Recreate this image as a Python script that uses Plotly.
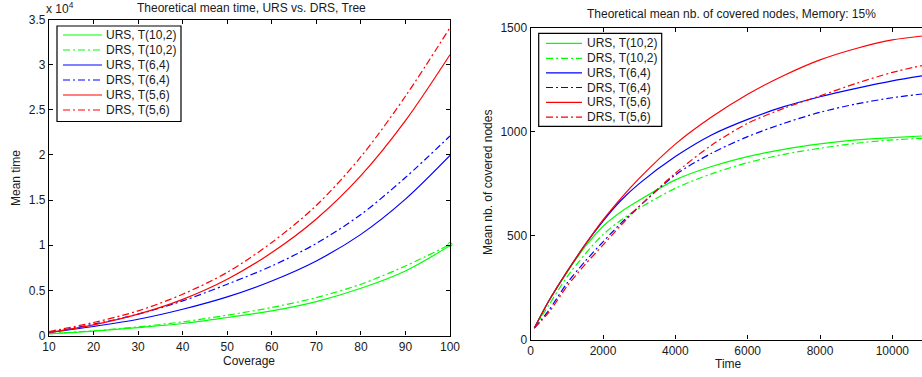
import plotly.graph_objects as go

# ---------------- data ----------------
coverage = [10, 20, 30, 40, 50, 60, 70, 80, 90, 100]
mt_urs_10_2 = [180, 480, 880, 1330, 1990, 2730, 3760, 5230, 7150, 9950]
mt_drs_10_2 = [220, 520, 960, 1510, 2250, 3100, 4200, 5680, 7700, 10080]
mt_urs_6_4 = [330, 1000, 1800, 2910, 4280, 6040, 8260, 11200, 15100, 19940]
mt_drs_6_4 = [330, 1250, 2360, 3830, 5680, 7700, 10200, 13400, 17500, 22100]
mt_urs_5_6 = [330, 1180, 2360, 4000, 6230, 9180, 12900, 17700, 23800, 31100]
mt_drs_5_6 = [440, 1440, 2730, 4570, 7000, 10300, 14400, 19800, 26500, 34100]

time = [100, 500, 1000, 1500, 2000, 2500, 3000, 4000, 5000, 6000, 7000, 8000, 9000, 10000, 10820]
cn_urs_10_2 = [55, 185, 322, 445, 545, 615, 670, 768, 832, 880, 915, 941, 960, 971, 979]
cn_drs_10_2 = [55, 165, 300, 410, 505, 575, 631, 728, 797, 851, 891, 920, 944, 960, 968]
cn_urs_6_4 = [55, 185, 325, 455, 570, 670, 750, 880, 984, 1059, 1120, 1168, 1208, 1244, 1268]
cn_drs_6_4 = [55, 140, 270, 375, 470, 560, 640, 792, 896, 976, 1040, 1093, 1133, 1163, 1181]
cn_urs_5_6 = [55, 185, 325, 455, 575, 680, 775, 940, 1070, 1180, 1270, 1345, 1400, 1441, 1460]
cn_drs_5_6 = [55, 130, 255, 360, 455, 550, 640, 800, 935, 1040, 1112, 1172, 1232, 1285, 1318]

names = ["URS, T(10,2)", "DRS, T(10,2)", "URS, T(6,4)", "DRS, T(6,4)", "URS, T(5,6)", "DRS, T(5,6)"]
colors = ["#00ff00", "#00ff00", "#0000ff", "#0000ff", "#ff0000", "#ff0000"]

left_yticks = [0, 5000, 10000, 15000, 20000, 25000, 30000, 35000]
left_yticktext = ["0", "0.5", "1", "1.5", "2", "2.5", "3", "3.5"]
left_xticks = [10, 20, 30, 40, 50, 60, 70, 80, 90, 100]
right_xticks = [0, 2000, 4000, 6000, 8000, 10000]
right_xticktext = ["0", "2000", "4000", "6000", "8000", "10000"]
right_yticks = [0, 500, 1000, 1500]

# ---------------- figure ----------------
W, H = 922, 377
FONT = "Liberation Sans, Arial, Helvetica, sans-serif"
DASHDOT = "7px,3px,2px,3px"
TXT = "#1a1a1a"


def px_x(p):
    return p / W


def px_y(p):
    return 1 - p / H


fig = go.Figure()

left_series = [mt_urs_10_2, mt_drs_10_2, mt_urs_6_4, mt_drs_6_4, mt_urs_5_6, mt_drs_5_6]
right_series = [cn_urs_10_2, cn_drs_10_2, cn_urs_6_4, cn_drs_6_4, cn_urs_5_6, cn_drs_5_6]

for i, (nm, col, ys) in enumerate(zip(names, colors, left_series)):
    fig.add_trace(go.Scatter(
        x=coverage, y=ys, name=nm, mode="lines", showlegend=False,
        line=dict(color=col, width=1.2, shape="spline", smoothing=0.9,
                  dash="solid" if i % 2 == 0 else DASHDOT),
        xaxis="x", yaxis="y"))

# small end marker on the green DRS curve (as in the reference)
fig.add_trace(go.Scatter(
    x=[coverage[-1]], y=[mt_drs_10_2[-1]], mode="markers", showlegend=False,
    marker=dict(symbol="circle-open", size=4, color=colors[1], line=dict(width=1)),
    xaxis="x", yaxis="y", cliponaxis=False))

for i, (nm, col, ys) in enumerate(zip(names, colors, right_series)):
    fig.add_trace(go.Scatter(
        x=time, y=ys, name=nm, mode="lines", showlegend=False,
        line=dict(color=col, width=1.2, shape="spline", smoothing=0.8,
                  dash="solid" if i % 2 == 0 else DASHDOT),
        xaxis="x2", yaxis="y2"))

axis_common = dict(
    showgrid=False, zeroline=False, showline=True, linecolor="black", linewidth=1.3,
    ticks="inside", ticklen=4, tickcolor="black", tickwidth=1, automargin=False,
    tickfont=dict(family=FONT, size=12, color=TXT),
)

fig.update_layout(
    width=W, height=H,
    margin=dict(l=0, r=0, t=0, b=0, autoexpand=False),
    paper_bgcolor="white", plot_bgcolor="white",
    font=dict(family=FONT, size=12, color=TXT),
    showlegend=False,
    xaxis=dict(domain=[px_x(49), px_x(450)], range=[10, 100], tickvals=left_xticks,
               mirror="ticks", anchor="y", **axis_common),
    yaxis=dict(domain=[px_y(335.5), px_y(19.5)], range=[0, 35000], tickvals=left_yticks,
               ticktext=left_yticktext, mirror="ticks", anchor="x", **axis_common),
    xaxis2=dict(domain=[px_x(530.7), 1.0], range=[0, 10820], tickvals=right_xticks,
                ticktext=right_xticktext, mirror="ticks", anchor="y2", **axis_common),
    yaxis2=dict(domain=[px_y(339.5), px_y(27.7)], range=[0, 1500], tickvals=right_yticks,
                mirror=False, anchor="x2", **axis_common),
)

ann_font = dict(family=FONT, size=12, color=TXT)
annotations = [
    dict(text="Theoretical mean time, URS vs. DRS, Tree", x=px_x(251.5), y=px_y(8)),
    dict(text="Theoretical mean nb. of covered nodes, Memory: 15%", x=px_x(731.5), y=px_y(14)),
    dict(text="Coverage", x=px_x(249), y=px_y(361)),
    dict(text="Time", x=px_x(728), y=px_y(364)),
    dict(text="Mean time", x=px_x(16), y=px_y(178), textangle=-90),
    dict(text="Mean nb. of covered nodes", x=px_x(488), y=px_y(183), textangle=-90),
    dict(text="x 10<sup>4</sup>", x=px_x(60), y=px_y(8)),
]

shapes = []


def add_legend(box, line_x0, line_x1, text_x, row_ys):
    x0, y0, x1, y1 = box
    shapes.append(dict(type="rect", xref="paper", yref="paper",
                       x0=px_x(x0), x1=px_x(x1), y0=px_y(y1), y1=px_y(y0),
                       line=dict(color="black", width=1.2), fillcolor="white", layer="above"))
    for i, (nm, col, yy) in enumerate(zip(names, colors, row_ys)):
        shapes.append(dict(type="line", xref="paper", yref="paper",
                           x0=px_x(line_x0), x1=px_x(line_x1), y0=px_y(yy), y1=px_y(yy),
                           line=dict(color=col, width=1.2,
                                     dash="solid" if i % 2 == 0 else DASHDOT),
                           layer="above"))
        annotations.append(dict(text=nm, x=px_x(text_x), y=px_y(yy), xanchor="left"))


add_legend((57, 26, 181, 121.5), 63, 102, 104, [35, 50, 65, 80, 95, 110])
add_legend((538.7, 33.3, 661.7, 126.3), 546, 582, 585, [43.3, 58.3, 72.8, 87.5, 102.3, 117.2])

fig.update_layout(
    shapes=shapes,
    annotations=[
        dict(xref="paper", yref="paper", showarrow=False,
             xanchor=a.pop("xanchor", "center"), yanchor="middle",
             font=ann_font, **a) for a in annotations
    ])

fig.write_html(
    "out.html",
    config={"displayModeBar": False},
    post_script="document.body.style.margin='0px';document.body.style.padding='0px';"
                "document.body.style.overflow='hidden';",
)
